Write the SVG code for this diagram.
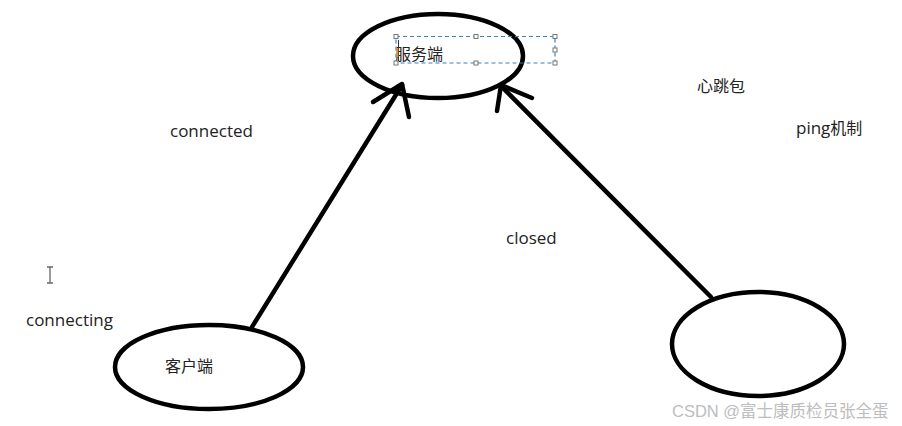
<svg xmlns="http://www.w3.org/2000/svg" width="902" height="426" viewBox="0 0 902 426">
<style>
.node{fill:none;stroke:#000;stroke-width:4.5}
.conn{fill:none;stroke:#000;stroke-width:4.5;stroke-linecap:round;stroke-linejoin:round}
.lbl{font-family:"Open Sans","Noto Sans CJK SC",sans-serif;font-size:17px;fill:#222}
.cjk{font-family:"Noto Sans CJK SC","Microsoft YaHei",sans-serif;font-size:16px;fill:#222}
.sel{fill:none;stroke:#3f7fc4;stroke-width:1.2;stroke-dasharray:4 3}
.h{fill:#fff;stroke:#777;stroke-width:1}
</style>
<rect width="902" height="426" fill="#fff"/>
<g id="server">
<ellipse class="node" cx="438" cy="56" rx="85" ry="42"/>
<text class="cjk" x="395" y="60">服务端</text>
<g id="selection">
<rect class="sel" x="396" y="36.5" width="159" height="26.5"/>
<rect class="h" x="394" y="34.5" width="4" height="4"/>
<rect class="h" x="474" y="34.5" width="4" height="4"/>
<rect class="h" x="553" y="34.5" width="4" height="4"/>
<rect class="h" x="553" y="48" width="4" height="4"/>
<rect class="h" x="394" y="61" width="4" height="4"/>
<rect class="h" x="474" y="61" width="4" height="4"/>
<rect class="h" x="553" y="61" width="4" height="4"/>
<line x1="398.5" y1="40" x2="398.5" y2="61" stroke="#333" stroke-width="1"/>
<rect x="396.5" y="48" width="1.8" height="9" fill="#e8902a"/>
</g>
</g>
<g id="client">
<ellipse class="node" cx="209" cy="367" rx="94" ry="42"/>
<text class="cjk" x="165" y="372">客户端</text>
</g>
<g id="peer">
<ellipse class="node" cx="758" cy="344" rx="86" ry="52"/>
</g>
<g id="connectors">
<path class="conn" d="M252 327 L402 85"/>
<path class="conn" d="M373 102 L402 84 L409 117"/>
<path class="conn" d="M711 297 L501 86"/>
<path class="conn" d="M497 111 L501 85 L532 98"/>
</g>
<g id="labels">
<text class="lbl" x="170" y="137">connected</text>
<text class="lbl" x="26" y="326">connecting</text>
<text class="lbl" x="506" y="244">closed</text>
<text class="cjk" x="697" y="92">心跳包</text>
<text class="lbl" x="796" y="134">ping<tspan style="font-family:'Noto Sans CJK SC',sans-serif;font-size:16px">机制</tspan></text>
</g>
<g id="cursor" stroke="#666" stroke-width="1.3" fill="none">
<path d="M50 267 V283 M47 267 H53 M47 283 H53"/>
</g>
<text x="672" y="417" style="font-family:'Liberation Sans','Noto Sans CJK SC',sans-serif;font-size:16.5px;fill:#bdbdbd">CSDN @富士康质检员张全蛋</text>
</svg>
